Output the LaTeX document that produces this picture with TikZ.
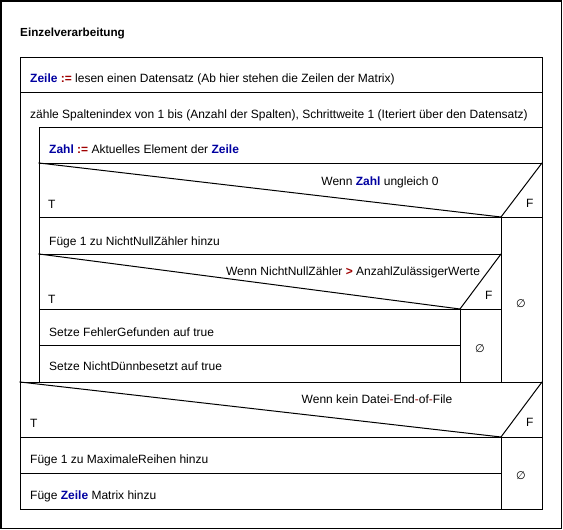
\documentclass[tikz,border=0pt]{standalone}
\usepackage{fontspec}
\setmainfont{Liberation Sans}
\newfontfamily\symfont{DejaVu Sans}
\definecolor{kwblue}{RGB}{0,0,160}
\definecolor{opred}{RGB}{160,0,0}
\newcommand{\kw}[1]{\textbf{\textcolor{kwblue}{#1}}}
\newcommand{\op}[1]{\textbf{\textcolor{opred}{#1}}}
\tikzset{
  txt/.style={anchor=base west, inner sep=0pt, font=\fontsize{12}{14}\selectfont},
  cond/.style={anchor=base, inner sep=0pt, font=\fontsize{12}{14}\selectfont},
  empty/.style={inner sep=0pt, font=\symfont\fontsize{11}{12}\selectfont},
  nsd/.style={line width=1pt, line cap=rect}
}
\begin{document}
\begin{tikzpicture}[x=1pt,y=-1pt]
  \useasboundingbox (0,0) rectangle (563,530);
  \draw [line width=1.5pt] (0.75,0.75) rectangle (561.5,528.5);
  \node [txt, font=\fontsize{11.7}{14}\selectfont\bfseries] (title) at (20,36) {Einzelverarbeitung};
  % Rahmen und Zeilen
  \draw [nsd] (20,57) rectangle (542,509);
  \draw [nsd] (20,92)--(542,92);
  \draw [nsd] (39,127)--(542,127);
  \draw [nsd] (39,127)--(39,382);
  \draw [nsd] (39,163)--(542,163);
  \draw [nsd] (39,163)--(501,217)--(542,163);
  \draw [nsd] (39,217)--(542,217);
  \draw [nsd] (501,217)--(501,382);
  \draw [nsd] (39,254)--(501,254);
  \draw [nsd] (39,254)--(460,309)--(501,254);
  \draw [nsd] (39,309)--(501,309);
  \draw [nsd] (460,309)--(460,382);
  \draw [nsd] (39,345)--(460,345);
  \draw [nsd] (20,382)--(542,382);
  \draw [nsd] (20,382)--(501,437)--(542,382);
  \draw [nsd] (20,437)--(542,437);
  \draw [nsd] (501,437)--(501,509);
  \draw [nsd] (20,473)--(501,473);
  % Texte
  \node [txt] (assign) at (30,82.5) {\kw{Zeile} \op{:=} lesen einen Datensatz (Ab hier stehen die Zeilen der Matrix)};
  \node [txt] (loophead) at (30,118) {zähle Spaltenindex von 1 bis (Anzahl der Spalten), Schrittweite 1 (Iteriert über den Datensatz)};
  \node [txt] (zahl) at (49,153.5) {\kw{Zahl} \op{:=} Aktuelles Element der \kw{Zeile}};
  \node [cond] (cond1) at (380,185) {Wenn \kw{Zahl} ungleich 0};
  \node [txt] (t1) at (48,208) {T};
  \node [txt] (f1) at (526,207) {F};
  \node [txt] (incr) at (49,245) {Füge 1 zu NichtNullZähler hinzu};
  \node [cond] (cond2) at (353,275) {Wenn NichtNullZähler \op{>} AnzahlZulässigerWerte};
  \node [txt] (t2) at (48,303) {T};
  \node [txt] (f2) at (485,299) {F};
  \node [txt] (fehler) at (49,336) {Setze FehlerGefunden auf true};
  \node [txt] (duenn) at (49,370.5) {Setze NichtDünnbesetzt auf true};
  \node [empty] (e2) at (480,349) {∅};
  \node [empty] (e1) at (521,304) {∅};
  \node [cond] (cond3) at (377,403) {Wenn kein Datei\textcolor{opred}{-}End\textcolor{opred}{-}of\textcolor{opred}{-}File};
  \node [txt] (t3) at (30,427) {T};
  \node [txt] (f3) at (526,426) {F};
  \node [txt] (reihen) at (30,463) {Füge 1 zu MaximaleReihen hinzu};
  \node [txt] (matrix) at (30,499) {Füge \kw{Zeile} Matrix hinzu};
  \node [empty] (e3) at (521,476) {∅};
\end{tikzpicture}
\end{document}
